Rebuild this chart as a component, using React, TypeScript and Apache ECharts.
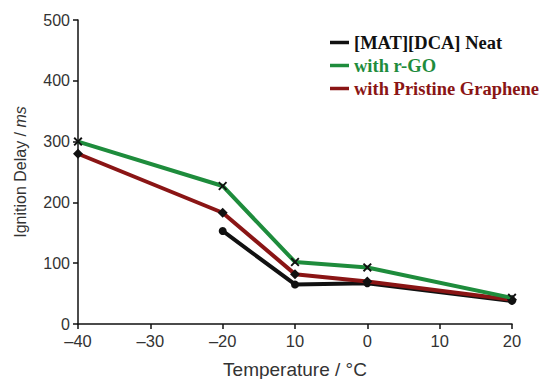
import React, { useEffect, useRef } from "react";
import * as echarts from "echarts";

const temps = [-40, -20, -10, 0, 20];
const neat: (number | null)[] = [null, 153, 65, 67, 38];
const rgo = [300, 227, 102, 93, 43];
const pristine = [280, 183, 82, 70, 40];
const xTickLabels = ["\u201340", "\u201330", "\u201320", "10", "0", "10", "20"];
const seriesNames = ["[MAT][DCA] Neat", "with r-GO", "with Pristine Graphene"];
const colors = ["#111111", "#1e8c3c", "#8a1515"];

const crossPath =
  "path://M0,1.5L1.5,0L5,3.5L8.5,0L10,1.5L6.5,5L10,8.5L8.5,10L5,6.5L1.5,10L0,8.5L3.5,5Z";

export default function App() {
  const ref = useRef<HTMLDivElement>(null);
  useEffect(() => {
    if (!ref.current) return;
    const chart = echarts.init(ref.current, undefined, { renderer: "svg" });
    const mk = (vals: (number | null)[]) => temps.map((t, i) => [t, vals[i]]);
    chart.setOption({
      animation: false,
      grid: { left: 78, right: 32, top: 20, bottom: 55, containLabel: false, outerBoundsMode: "none" },
      legend: {
        orient: "vertical",
        left: 325,
        top: 28,
        itemWidth: 19,
        itemHeight: 3.5,
        itemGap: 4,
        icon: "rect",
        data: seriesNames.map((n, i) => ({
          name: n,
          itemStyle: { color: colors[i] },
          textStyle: { color: colors[i] },
        })),
        textStyle: {
          fontFamily: "Liberation Serif",
          fontWeight: "bold",
          fontSize: 18.5,
        },
      },
      xAxis: {
        type: "value",
        min: -40,
        max: 20,
        interval: 10,
        name: "Temperature / \u00b0C",
        nameLocation: "middle",
        nameGap: 36,
        nameTextStyle: { fontFamily: "Liberation Sans", fontSize: 19, color: "#333" },
        axisLine: { show: true, onZero: false, lineStyle: { color: "#111", width: 1.5 } },
        axisTick: { show: true, length: 5, lineStyle: { color: "#111", width: 1.5 } },
        splitLine: { show: false },
        axisLabel: {
          fontFamily: "Liberation Sans",
          fontSize: 16.5,
          color: "#333",
          margin: 8,
          formatter: (_v: number, idx: number) => xTickLabels[idx] ?? "",
        },
      },
      yAxis: {
        type: "value",
        min: 0,
        max: 500,
        interval: 100,
        name: "{a|Ignition Delay / }{b|ms}",
        nameLocation: "middle",
        nameGap: 50,
        nameTextStyle: {
          rich: {
            a: { fontFamily: "Liberation Sans", fontSize: 16, color: "#333" },
            b: { fontFamily: "Liberation Sans", fontSize: 16, color: "#333", fontStyle: "italic" },
          },
        },
        axisLine: { show: true, onZero: false, lineStyle: { color: "#111", width: 1.5 } },
        axisTick: { show: true, length: 5, lineStyle: { color: "#111", width: 1.5 } },
        splitLine: { show: false },
        axisLabel: { fontFamily: "Liberation Sans", fontSize: 16, color: "#333", margin: 8 },
      },
      series: [
        {
          name: seriesNames[0],
          type: "line",
          data: mk(neat),
          symbol: "circle",
          symbolSize: 8,
          itemStyle: { color: colors[0] },
          lineStyle: { color: colors[0], width: 4 },
          z: 3,
        },
        {
          name: seriesNames[2],
          type: "line",
          data: mk(pristine),
          symbol: "diamond",
          symbolSize: 10,
          itemStyle: { color: "#111" },
          lineStyle: { color: colors[2], width: 4 },
          z: 4,
        },
        {
          name: seriesNames[1],
          type: "line",
          data: mk(rgo),
          symbol: crossPath,
          symbolSize: 9,
          itemStyle: { color: "#111" },
          lineStyle: { color: colors[1], width: 4 },
          z: 5,
        },
      ],
    });
    return () => chart.dispose();
  }, []);
  return <div ref={ref} style={{ width: 544, height: 379, position: "absolute", left: 0, top: 0 }} />;
}
